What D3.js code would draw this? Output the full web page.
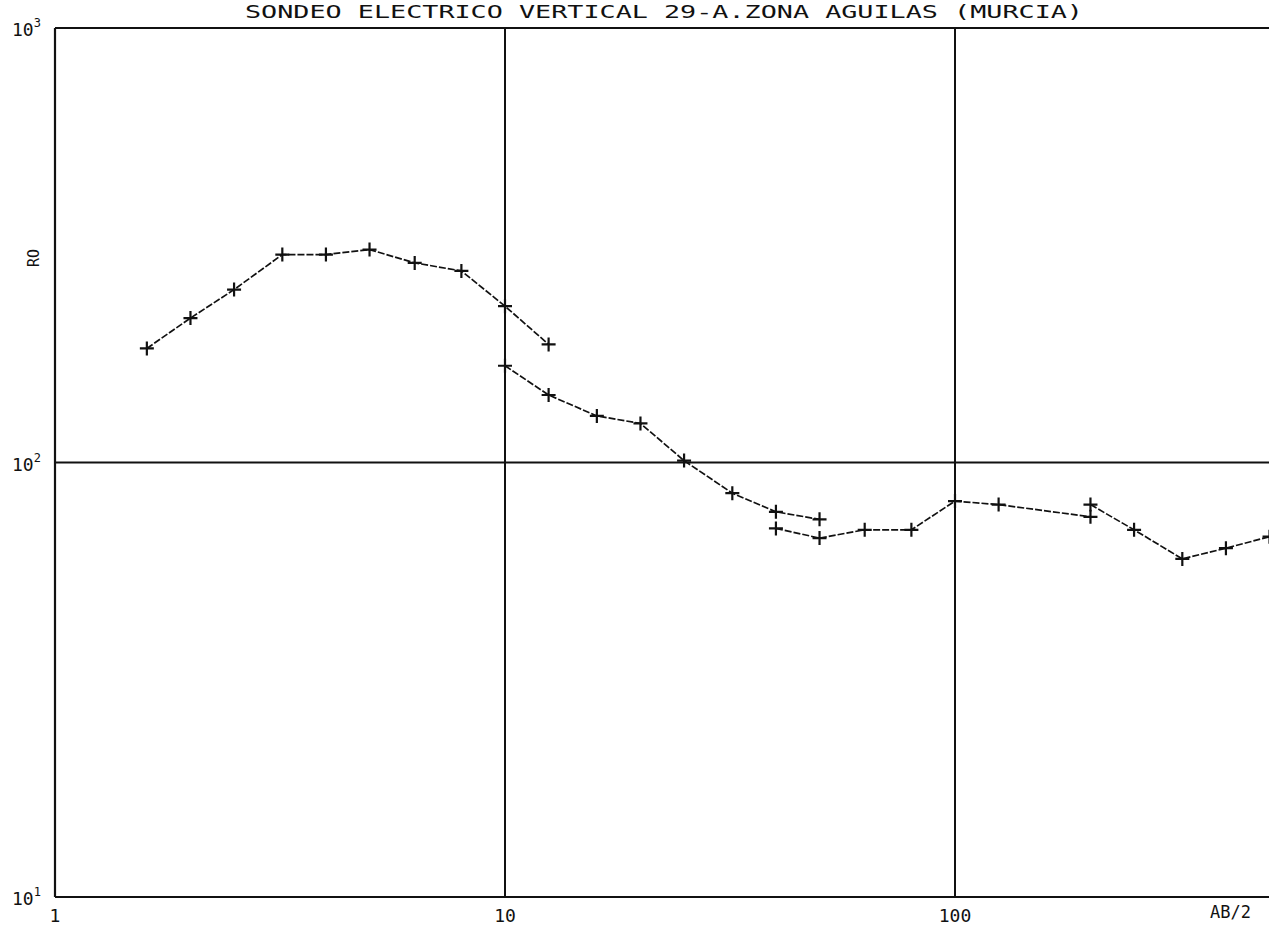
<!DOCTYPE html>
<html>
<head>
<meta charset="utf-8">
<script src="https://cdn.jsdelivr.net/npm/d3@7"></script>
<style>
  body { margin: 0; background: #fff; }
  svg { display: block; }
  text { font-family: "DejaVu Sans Mono", monospace; fill: #111; }
</style>
</head>
<body>
<svg></svg>
<script>
// data (AB/2 in m, apparent resistivity RO in ohm.m)
let seg1AB = [1.6, 2, 2.5, 3.2, 4, 5, 6.3, 8, 10, 12.5];
let seg1RO = [183, 215, 250, 301, 301, 309, 288, 276, 229, 187];

let seg2AB = [10, 12.5, 16, 20, 25, 32, 40, 50];
let seg2RO = [167, 143, 128, 123, 101, 85, 77, 74];

let seg3AB = [40, 50, 63, 80, 100, 125, 200];
let seg3RO = [70.5, 67, 70, 70, 81.5, 80, 75];

let seg4AB = [200, 250, 320, 400, 500];
let seg4RO = [80, 70, 60, 63.5, 67.5];

let xTicks = [1, 10, 100];
let xTickLabels = ['1', '10', '100'];
let yTicks = [1000, 100, 10];

let titleText = 'SONDEO ELECTRICO VERTICAL 29-A.ZONA AGUILAS (MURCIA)';

// configuration of svg/plot area
let config = { 'svg': {}, 'plot': {} };
config.svg.width = 1269;
config.svg.height = 926;
config.plot.left = 55;
config.plot.top = 28;
config.plot.bottom = 897;
config.plot.decade = 450;

let svg = d3.select('svg')
  .attr('width', config.svg.width)
  .attr('height', config.svg.height);

let x = d3.scaleLog()
  .domain([1, 1000])
  .range([config.plot.left, config.plot.left + 3 * config.plot.decade]);

let y = d3.scaleLog()
  .domain([10, 1000])
  .range([config.plot.bottom, config.plot.top]);

// frame: top, left, bottom (right edge is off the sheet)
let frame = svg.append('g').attr('stroke', '#111').attr('stroke-width', 2.2);
frame.append('line')
  .attr('x1', config.plot.left).attr('x2', config.svg.width)
  .attr('y1', y(1000)).attr('y2', y(1000));
frame.append('line')
  .attr('x1', config.plot.left).attr('x2', config.svg.width)
  .attr('y1', y(10)).attr('y2', y(10));
frame.append('line')
  .attr('x1', x(1)).attr('x2', x(1))
  .attr('y1', y(1000)).attr('y2', y(10));

// decade grid lines
frame.selectAll('.vgrid')
  .data([10, 100])
  .join('line')
  .attr('x1', d => x(d)).attr('x2', d => x(d))
  .attr('y1', y(1000)).attr('y2', y(10))
  .attr('stroke-width', 2);
frame.append('line')
  .attr('x1', config.plot.left).attr('x2', config.svg.width)
  .attr('y1', y(100)).attr('y2', y(100))
  .attr('stroke-width', 2);

// title
svg.append('text')
  .attr('x', 245).attr('y', 18)
  .attr('textLength', 838)
  .attr('lengthAdjust', 'spacingAndGlyphs')
  .style('font-size', '18px')
  .text(titleText);

// y tick labels 10^n
let yLab = svg.selectAll('.ylab')
  .data(yTicks)
  .join('text')
  .attr('class', 'ylab')
  .attr('x', 12)
  .attr('y', d => y(d) + 8)
  .style('font-size', '18px');
yLab.append('tspan').text('10');
yLab.append('tspan')
  .attr('dy', -9)
  .style('font-size', '12px')
  .text(d => Math.round(Math.log10(d)));

// x tick labels
svg.selectAll('.xlab')
  .data(xTicks)
  .join('text')
  .attr('x', d => x(d))
  .attr('y', 922)
  .attr('text-anchor', 'middle')
  .style('font-size', '18px')
  .text((d, i) => xTickLabels[i]);

svg.append('text')
  .attr('x', 1210).attr('y', 918)
  .style('font-size', '17px')
  .text('AB/2');

svg.append('text')
  .attr('transform', 'translate(39,258) rotate(-90)')
  .attr('text-anchor', 'middle')
  .style('font-size', '15px')
  .text('RO');

// curve segments
let segments = [
  { ab: seg1AB, ro: seg1RO },
  { ab: seg2AB, ro: seg2RO },
  { ab: seg3AB, ro: seg3RO },
  { ab: seg4AB, ro: seg4RO }
];

let line = d3.line()
  .x(d => x(d[0]))
  .y(d => y(d[1]));

let curves = svg.append('g');
segments.forEach(s => {
  let pts = s.ab.map((a, i) => [a, s.ro[i]]);
  curves.append('path')
    .attr('d', line(pts))
    .attr('fill', 'none')
    .attr('stroke', '#111')
    .attr('stroke-width', 1.7)
    .attr('stroke-dasharray', '7,2');
  curves.selectAll(null)
    .data(pts)
    .join('path')
    .attr('d', d => {
      let cx = x(d[0]), cy = y(d[1]);
      return `M${cx - 7},${cy}H${cx + 7}M${cx},${cy - 7}V${cy + 7}`;
    })
    .attr('stroke', '#111')
    .attr('stroke-width', 2.2);
});
</script>
</body>
</html>
